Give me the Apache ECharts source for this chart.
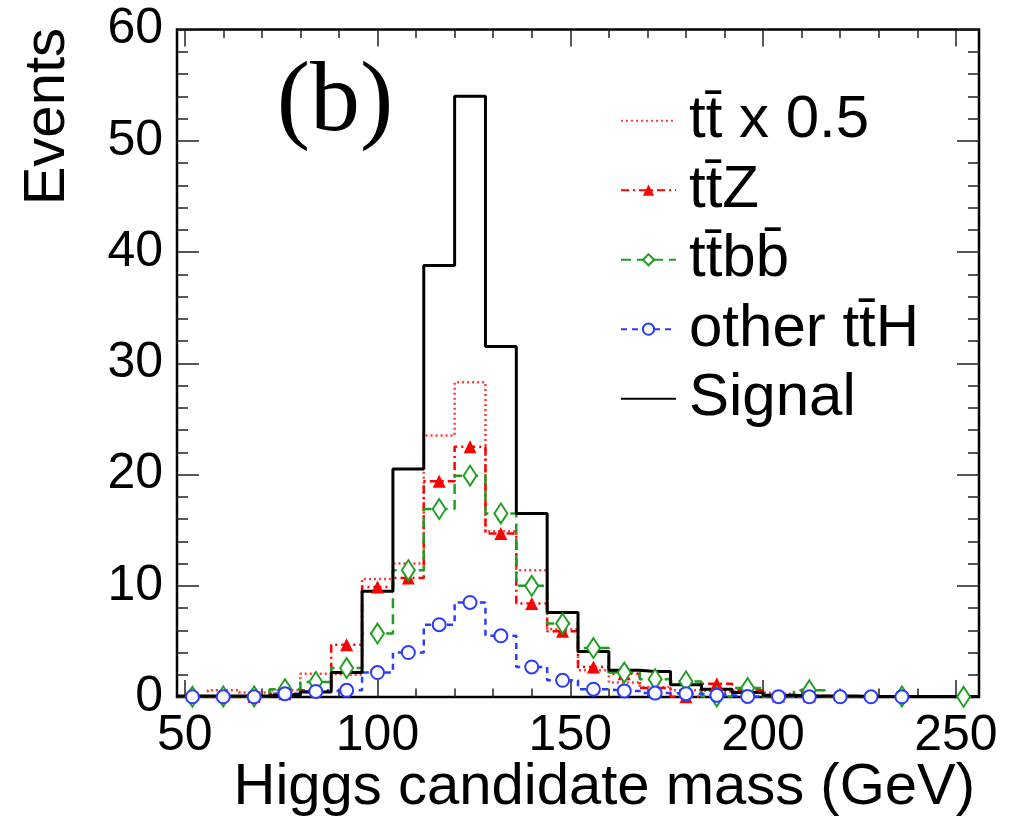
<!DOCTYPE html>
<html><head><meta charset="utf-8">
<script src="https://cdn.jsdelivr.net/npm/echarts@6/dist/echarts.min.js"></script>
<style>html,body{margin:0;padding:0;background:#fff}#c{width:1010px;height:826px}</style>
</head><body><div id="c"></div>
<script>
// ---- data (bin centres in GeV, bin width 8) ----
const binWidth = 8;
const binCenters = [52,60,68,76,84,92,100,108,116,124,132,140,148,156,164,172,180,188,196,204,212,220,228,236,244,252];
// null = empty bin (drawn at 0, no marker)
const ttbarHalf = [0.05,0.6,0.4,0.6,2.1,2.0,10.6,12.0,23.5,28.3,14.9,11.4,6.1,2.4,1.3,0.9,0.6,0.5,0.4,0.3,0.1,0.05,0.05,0.05,0.05,0.05];
const ttZ       = [null,null,0.05,0.3,0.6,4.7,9.9,10.7,19.4,22.5,14.7,8.4,5.9,2.7,2.1,0.8,0.02,1.2,0.6,0.1,0.1,null,null,null,null,null];
const ttbb      = [0.02,0.05,0.05,0.7,1.35,2.6,5.7,11.4,16.9,19.9,16.5,10.0,6.6,4.4,2.2,1.6,1.4,0.05,0.8,null,0.6,null,null,0.05,null,0.02];
const otherTtH  = [0.02,0.02,0.02,0.3,0.5,0.6,2.2,4.0,6.5,8.5,5.5,2.7,1.5,0.7,0.55,0.35,0.3,0.15,0.05,0.03,0.02,0.02,0.02,0.02,null,null];
const signal    = [0.1,0.1,0.1,0.2,0.45,2.2,9.5,20.5,38.8,54,31.5,16.5,7.6,4.1,2.4,2.3,1.1,0.7,0.4,0.15,0.1,0.1,0.05,0.05,0.05,0.05];
const seriesNames = ['t\u0074\u0304 x 0.5','t\u0074\u0304Z','t\u0074\u0304b\u0062\u0304','other t\u0074\u0304H','Signal'];
const xMajorTicks = [50,100,150,200,250];
const xMinorTicks = [60,70,80,90,110,120,130,140,160,170,180,190,210,220,230,240];

function histData(values, markers) {
  const d = [];
  values.forEach((v, i) => {
    const c = binCenters[i], lo = c - binWidth/2, hi = c + binWidth/2;
    const y = v == null ? 0 : v;
    d.push({value:[lo,y], symbol:'none'});
    if (markers && v != null) d.push({value:[c,y]});
    else d.push({value:[c,y], symbol:'none'});
    d.push({value:[hi,y], symbol:'none'});
  });
  return d;
}

const FONT = 'Liberation Sans';
const chart = echarts.init(document.getElementById('c'));
const xBase = (pos, ticks, len, labels) => ({
  type:'value', min:48, max:256, position:pos, gridIndex:0,
  axisLine:{show:false}, splitLine:{show:false},
  axisTick:{show:true, inside:true, length:len, customValues:ticks, lineStyle:{color:'#222', width:1.5}},
  axisLabel:{show:labels, customValues:ticks, color:'#000', fontFamily:FONT, fontSize:50, margin:14}
});
const option = {
  animation:false,
  backgroundColor:'#fff',
  grid:{left:177, right:31, top:29.6, bottom:129, show:true, borderColor:'#000', borderWidth:2.5, backgroundColor:'transparent'},
  xAxis:[
    xBase('bottom',xMajorTicks,17,true),
    xBase('bottom',xMinorTicks,8.5,false),
    xBase('top',xMajorTicks,17,false),
    xBase('top',xMinorTicks,8.5,false)
  ],
  yAxis:[
    {type:'value', min:0, max:60, interval:10, position:'left',
     axisLine:{show:false}, splitLine:{show:false},
     axisTick:{show:true, inside:true, length:22, lineStyle:{color:'#222', width:1.5}},
     minorTick:{show:true, splitNumber:5, length:11, lineStyle:{color:'#222', width:1.5}},
     axisLabel:{color:'#000', fontFamily:FONT, fontSize:50, margin:14}},
    {type:'value', min:0, max:60, interval:10, position:'right',
     axisLine:{show:false}, splitLine:{show:false},
     axisTick:{show:true, inside:true, length:22, lineStyle:{color:'#222', width:1.5}},
     minorTick:{show:true, splitNumber:5, length:11, lineStyle:{color:'#222', width:1.5}},
     axisLabel:{show:false}}
  ],
  legend:{
    orient:'vertical', left:620, top:90.7, padding:0, itemWidth:55, itemHeight:14, itemGap:9.5,
    data:[
      {name:seriesNames[0], itemStyle:{opacity:0}},
      {name:seriesNames[1]},
      {name:seriesNames[2]},
      {name:seriesNames[3]},
      {name:seriesNames[4], itemStyle:{opacity:0}}
    ],
    textStyle:{fontFamily:FONT, fontSize:60, color:'#000', lineHeight:60, padding:[0,0,0,8]}
  },
  series:[
    {name:seriesNames[0], type:'line', data:histData(ttbarHalf,false), showSymbol:false, symbol:'none',
     color:'#ff3a3a', lineStyle:{color:'#ff3a3a', width:2.5, type:[2,3]}},
    {name:seriesNames[1], type:'line', data:histData(ttZ,true), symbol:'triangle', symbolSize:13,
     color:'#ff0000', itemStyle:{color:'#ff0000'}, lineStyle:{color:'#ff0000', width:2.5, type:[8,4,2,4]}},
    {name:seriesNames[2], type:'line', data:histData(ttbb,true), symbol:'emptyDiamond', symbolSize:[13,20],
     color:'#1f9e1f', itemStyle:{color:'#1f9e1f', borderWidth:2}, lineStyle:{color:'#1f9e1f', width:2.5, type:[10,6]}},
    {name:seriesNames[3], type:'line', data:histData(otherTtH,true), symbol:'emptyCircle', symbolSize:13,
     color:'#2a3cff', itemStyle:{color:'#2a3cff', borderWidth:2}, lineStyle:{color:'#2a3cff', width:2.5, type:[6,5]}},
    {name:seriesNames[4], type:'line', data:histData(signal,false), showSymbol:false, symbol:'none',
     color:'#000', lineStyle:{color:'#000', width:3}}
  ],
  graphic:[
    {type:'text', x:335, y:104, style:{text:'(b)', font:'100px "Liberation Serif"', fill:'#000', align:'center', verticalAlign:'middle'}},
    {type:'text', x:48, y:28, rotation:Math.PI/2, style:{text:'Events', font:'58px "Liberation Sans"', fill:'#000', align:'right', verticalAlign:'middle'}},
    {type:'text', x:975, y:788, style:{text:'Higgs candidate mass (GeV)', font:'58px "Liberation Sans"', fill:'#000', align:'right', verticalAlign:'middle'}}
  ]
};
chart.setOption(option);
</script>
</body></html>
